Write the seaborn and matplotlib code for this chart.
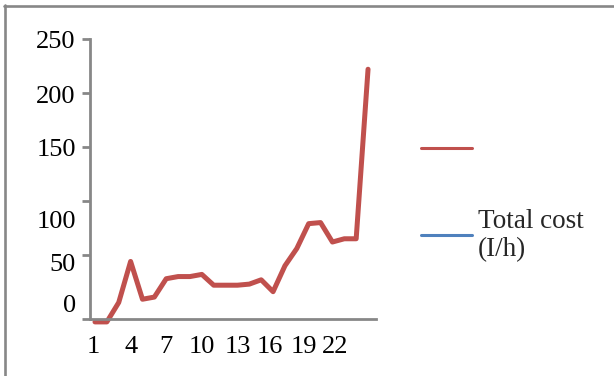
import matplotlib
matplotlib.use("Agg")
import matplotlib.pyplot as plt
import matplotlib.transforms as mtransforms
from matplotlib.lines import Line2D
from matplotlib.offsetbox import TextArea
import seaborn as sns
import pandas as pd

# Hourly total cost series
hours = list(range(1, 25))
total_cost = [-12, -12, 6, 44, 9, 11, 28, 30, 30, 32, 22, 22, 22, 23, 27, 16,
              40, 56, 79, 80, 62, 65, 65, 222]

x_ticks = [1, 4, 7, 10, 13, 16, 19, 22]
y_tick_labels = ["0", "50", "100", "150", "200", "250"]
legend_labels = [" ", "Total cost\n(I/h)"]

RED = "#C0504D"
BLUE = "#4F81BD"
GRAY = "#878787"

sns.set_theme(style="white")
plt.rcParams["font.family"] = ["Liberation Serif", "DejaVu Serif"]

df = pd.DataFrame({"hour": hours, "cost": total_cost})

fig = plt.figure(figsize=(6.14, 3.76), dpi=100)
W, H = 614, 376
ax = fig.add_axes([90 / W, (H - 319) / H, 286 / W, 280 / H])

sns.lineplot(data=df, x="hour", y="cost", ax=ax, color=RED, linewidth=3.6,
             clip_on=False, legend=False)

ymin, ymax = -9.3, 250
ax.set_xlim(0.58, 24.67)
ax.set_ylim(ymin, ymax)
ax.set_xlabel("")
ax.set_ylabel("")

for side in ("top", "right"):
    ax.spines[side].set_visible(False)
for side in ("left", "bottom"):
    ax.spines[side].set_color(GRAY)
    ax.spines[side].set_linewidth(2.0)

ax.set_xticks(x_ticks)
ax.set_xticklabels([str(v) for v in x_ticks])
ax.set_yticks([ymin, 50, 100, 150, 200, 250])
ax.set_yticklabels(y_tick_labels)
ax.tick_params(axis="x", length=0, pad=12.5, labelsize=19, colors="black")
ax.tick_params(axis="y", length=5.8, width=2.0, color=GRAY, direction="out",
               pad=4.5, labelsize=19, labelcolor="black", left=True)

# nudge tick labels (pixel offsets, +down / +right)
px = 1.0 / fig.dpi
y_shift = [-16, 8, 19, 1, 2, 0]
for lbl, dy in zip(ax.get_yticklabels(), y_shift):
    lbl.set_transform(lbl.get_transform() +
                      mtransforms.ScaledTranslation(0, -dy * px, fig.dpi_scale_trans))
x_shift = [-2, 0, 0, 0, 0, -3, -5, -9]
for lbl, dx in zip(ax.get_xticklabels(), x_shift):
    lbl.set_transform(lbl.get_transform() +
                      mtransforms.ScaledTranslation(dx * px, 0, fig.dpi_scale_trans))

handles = [Line2D([], [], color=RED, linewidth=2.2),
           Line2D([], [], color=BLUE, linewidth=2.2)]
leg = ax.legend(handles, legend_labels, loc="upper left",
                bbox_to_anchor=(421 / W, (H - 138) / H),
                bbox_transform=fig.transFigure, frameon=False, fontsize=19.5,
                handlelength=1.9, handletextpad=0.2, borderpad=0,
                borderaxespad=0, labelspacing=1.68)
for col in leg._legend_handle_box.get_children():
    for row in col.get_children():
        for child in row.get_children():
            if isinstance(child, TextArea):
                child.set_multilinebaseline(True)

# frame lines along the top and left edges of the figure
fig.add_artist(Line2D([4 / W, 1.0], [(H - 6) / H] * 2, transform=fig.transFigure,
                      color=GRAY, linewidth=1.9))
fig.add_artist(Line2D([4.5 / W] * 2, [0, (H - 5) / H], transform=fig.transFigure,
                      color=GRAY, linewidth=1.9))

fig.savefig("out.png", dpi=100)
